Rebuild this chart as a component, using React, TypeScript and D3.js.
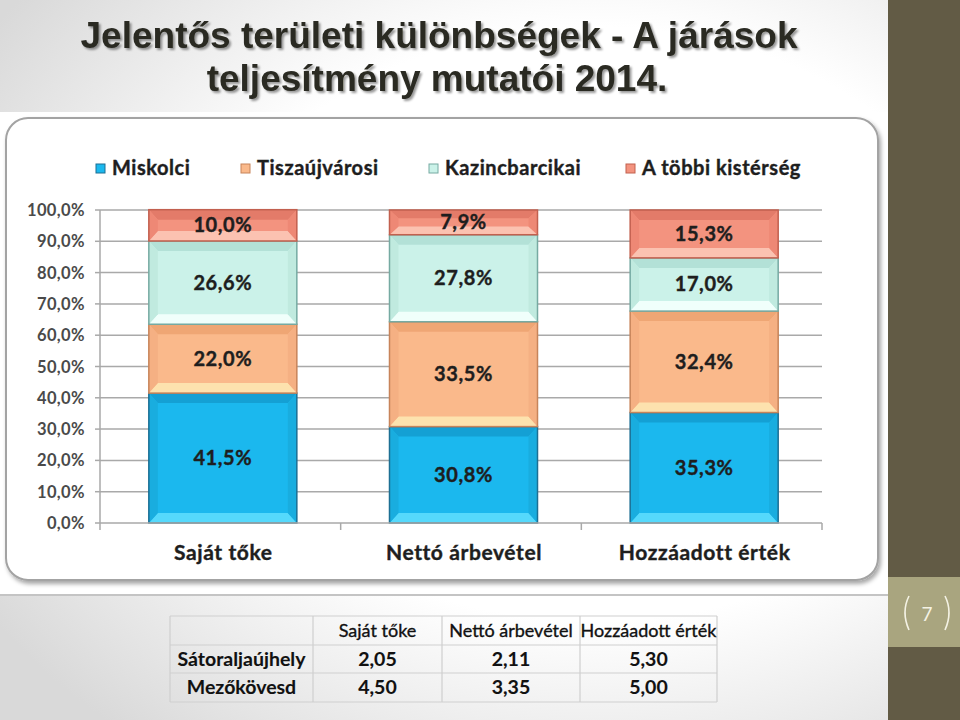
import { useEffect, useRef } from 'react';
import * as d3 from 'd3';

// Chart data (percent shares, 2014)
const categories = ['Saját tőke', 'Nettó árbevétel', 'Hozzáadott érték'];
const seriesNames = ['Miskolci', 'Tiszaújvárosi', 'Kazincbarcikai', 'A többi kistérség'];
const miskolci = [41.5, 30.8, 35.3];
const tiszaujvarosi = [22.0, 33.5, 32.4];
const kazincbarcikai = [26.6, 27.8, 17.0];
const tobbi = [10.0, 7.9, 15.3];
const yTicks = [0, 10, 20, 30, 40, 50, 60, 70, 80, 90, 100];

// Table below the chart
const tableHeader = ['', 'Saját tőke', 'Nettó árbevétel', 'Hozzáadott érték'];
const tableRowNames = ['Sátoraljaújhely', 'Mezőkövesd'];
const satoraljaujhely = ['2,05', '2,11', '5,30'];
const mezokovesd = ['4,50', '3,35', '5,00'];

const palette = [
  { main: '#1bb8ee', top: '#14a0d4', bottom: '#55d9fc', side: '#19addf', edge: '#1d6f93' },
  { main: '#fab98b', top: '#efa674', bottom: '#fde2ae', side: '#f5b083', edge: '#c7845a' },
  { main: '#cbf2e9', top: '#b3e1d7', bottom: '#f0fffb', side: '#c0eadf', edge: '#76aaa2' },
  { main: '#f3937f', top: '#e37b69', bottom: '#fbc2b1', side: '#ee8875', edge: '#c2604f' },
];

const fmt = (v: number) => v.toFixed(1).replace('.', ',');
const FONT = 'Lato, sans-serif';

export default function App() {
  const svgRef = useRef<SVGSVGElement>(null);

  useEffect(() => {
    if (!svgRef.current) return;
    const svg = d3.select(svgRef.current);
    svg.selectAll('*').remove();

    const defs = svg.append('defs');
    const bg = defs.append('radialGradient').attr('id', 'bg')
      .attr('cx', '0.62').attr('cy', '0.45').attr('r', '0.75');
    bg.append('stop').attr('offset', '0.55').attr('stop-color', '#ffffff');
    bg.append('stop').attr('offset', '1').attr('stop-color', '#d9d9d9');
    const sh = defs.append('filter').attr('id', 'sh').attr('x', '-5%').attr('y', '-5%')
      .attr('width', '110%').attr('height', '115%');
    sh.append('feDropShadow').attr('dx', 2).attr('dy', 3).attr('stdDeviation', 2)
      .attr('flood-color', '#000').attr('flood-opacity', 0.35);
    const tsh = defs.append('filter').attr('id', 'tsh');
    tsh.append('feDropShadow').attr('dx', 2).attr('dy', 2).attr('stdDeviation', 1.2)
      .attr('flood-color', '#000').attr('flood-opacity', 0.4);

    // slide background
    svg.append('rect').attr('width', 960).attr('height', 720).attr('fill', 'url(#bg)');
    svg.append('rect').attr('x', 888).attr('width', 72).attr('height', 720).attr('fill', '#625b45');
    svg.append('rect').attr('x', 888).attr('y', 577).attr('width', 72).attr('height', 70).attr('fill', '#a9a57f');
    svg.append('path').attr('d', 'M909,596 Q901,612 909,630').attr('fill', 'none')
      .attr('stroke', '#f4f2e4').attr('stroke-width', 1.6);
    svg.append('path').attr('d', 'M945,596 Q953,612 945,630').attr('fill', 'none')
      .attr('stroke', '#f4f2e4').attr('stroke-width', 1.6);
    svg.append('text').attr('x', 927).attr('y', 621).attr('text-anchor', 'middle')
      .attr('font-family', FONT).attr('font-size', 19).attr('fill', '#f4f2e4').text('7');

    // title
    const title = svg.append('g').attr('font-family', '"Liberation Sans", Arial, sans-serif')
      .attr('font-weight', 'bold').attr('font-size', 37).attr('fill', '#2a2a22')
      .attr('text-anchor', 'middle').attr('filter', 'url(#tsh)');
    title.append('text').attr('x', 439).attr('y', 48).text('Jelentős területi különbségek - A járások');
    title.append('text').attr('x', 437).attr('y', 91).text('teljesítmény mutatói 2014.');

    // chart picture
    svg.append('rect').attr('x', 0).attr('y', 112).attr('width', 888).attr('height', 483).attr('fill', '#ffffff');
    svg.append('line').attr('x1', 0).attr('x2', 888).attr('y1', 595).attr('y2', 595)
      .attr('stroke', '#c4c4c4').attr('stroke-width', 2);
    svg.append('rect').attr('x', 6).attr('y', 118).attr('width', 872).attr('height', 462).attr('rx', 22)
      .attr('fill', '#ffffff').attr('stroke', '#a3a3a3').attr('stroke-width', 2).attr('filter', 'url(#sh)');

    const y = d3.scaleLinear().domain([0, 100]).range([523, 210]);
    const x = d3.scaleBand<string>().domain(categories).range([100, 822]);
    const barW = x.bandwidth() * 0.615;

    // gridlines
    svg.append('g').selectAll('line').data(yTicks.filter(t => t > 0)).join('line')
      .attr('x1', 100).attr('x2', 822).attr('y1', d => y(d)).attr('y2', d => y(d))
      .attr('stroke', '#a9a9a9').attr('stroke-width', 1.5);
    // y axis
    svg.append('line').attr('x1', 100).attr('x2', 100).attr('y1', y(0)).attr('y2', y(100))
      .attr('stroke', '#a9a9a9').attr('stroke-width', 1.5);
    svg.append('g').selectAll('line').data(yTicks).join('line')
      .attr('x1', 95).attr('x2', 100).attr('y1', d => y(d)).attr('y2', d => y(d))
      .attr('stroke', '#a9a9a9').attr('stroke-width', 1.5);
    svg.append('g').selectAll('text').data(yTicks).join('text')
      .attr('x', 85).attr('y', d => y(d) + 6).attr('text-anchor', 'end')
      .attr('font-family', FONT).attr('font-weight', 'bold').attr('font-size', 16.5)
      .attr('fill', '#4a4a4a').attr('letter-spacing', 0.4).text(d => fmt(d) + '%');

    // stacked bars
    const rows = categories.map((c, i) => ({
      cat: c,
      [seriesNames[0]]: miskolci[i],
      [seriesNames[1]]: tiszaujvarosi[i],
      [seriesNames[2]]: kazincbarcikai[i],
      [seriesNames[3]]: tobbi[i],
    }));
    const stacked = d3.stack<any>().keys(seriesNames)(rows);

    stacked.forEach((layer, si) => {
      const col = palette[si];
      layer.forEach((d, ci) => {
        const cx = (x(categories[ci]) as number) + x.bandwidth() / 2 + 2.5;
        const x0 = cx - barW / 2;
        const x1 = cx + barW / 2;
        const yt = y(d[1]);
        const yb = y(d[0]);
        const h = yb - yt;
        const bv = Math.min(10, h / 3);
        const bs = Math.min(9, barW / 4);
        const g = svg.append('g');
        g.append('rect').attr('x', x0).attr('y', yt).attr('width', barW).attr('height', h).attr('fill', col.main);
        g.append('path').attr('d', `M${x0},${yt}L${x1},${yt}L${x1 - bs},${yt + bv}L${x0 + bs},${yt + bv}Z`).attr('fill', col.top);
        g.append('path').attr('d', `M${x0},${yb}L${x1},${yb}L${x1 - bs},${yb - bv}L${x0 + bs},${yb - bv}Z`).attr('fill', col.bottom);
        g.append('path').attr('d', `M${x0},${yt}L${x0 + bs},${yt + bv}L${x0 + bs},${yb - bv}L${x0},${yb}Z`).attr('fill', col.side);
        g.append('path').attr('d', `M${x1},${yt}L${x1 - bs},${yt + bv}L${x1 - bs},${yb - bv}L${x1},${yb}Z`).attr('fill', col.side);
        g.append('rect').attr('x', x0).attr('y', yt).attr('width', barW).attr('height', h)
          .attr('fill', 'none').attr('stroke', col.edge).attr('stroke-width', 1.5);
        g.append('text').attr('x', cx).attr('y', (yt + yb) / 2 + 7).attr('text-anchor', 'middle')
          .attr('font-family', FONT).attr('font-weight', 'bold').attr('font-size', 20)
          .attr('fill', '#1e1e1e').attr('stroke', '#1e1e1e').attr('stroke-width', 0.4)
          .attr('letter-spacing', 0.6).text(fmt(d[1] - d[0]) + '%');
      });
    });

    // x axis
    svg.append('line').attr('x1', 100).attr('x2', 822).attr('y1', y(0)).attr('y2', y(0))
      .attr('stroke', '#a9a9a9').attr('stroke-width', 1.5);
    const bounds = [...categories.map(c => x(c) as number), 822];
    svg.append('g').selectAll('line').data(bounds).join('line')
      .attr('x1', d => d).attr('x2', d => d).attr('y1', y(0)).attr('y2', y(0) + 7)
      .attr('stroke', '#a9a9a9').attr('stroke-width', 1.5);
    svg.append('g').selectAll('text').data(categories).join('text')
      .attr('x', d => (x(d) as number) + x.bandwidth() / 2 + 3).attr('y', 560).attr('text-anchor', 'middle')
      .attr('font-family', FONT).attr('font-weight', 'bold').attr('font-size', 21)
      .attr('fill', '#1e1e1e').attr('stroke', '#1e1e1e').attr('stroke-width', 0.4)
      .attr('letter-spacing', 0.6).text(d => d);

    // legend
    const legendX = [96, 241, 429, 626];
    const lg = svg.append('g');
    seriesNames.forEach((name, i) => {
      lg.append('rect').attr('x', legendX[i]).attr('y', 164).attr('width', 9).attr('height', 9)
        .attr('fill', palette[i].main).attr('stroke', palette[i].edge).attr('stroke-width', 1);
      lg.append('text').attr('x', legendX[i] + 16).attr('y', 175)
        .attr('font-family', FONT).attr('font-weight', 'bold').attr('font-size', 20)
        .attr('fill', '#1e1e1e').attr('stroke', '#1e1e1e').attr('stroke-width', 0.4)
        .attr('letter-spacing', 0.55).text(name);
    });

    // table
    const colX = [170, 313, 442, 580, 717];
    const rowY = [616, 645, 673, 702];
    const tb = svg.append('g');
    rowY.forEach(ry => tb.append('line').attr('x1', colX[0]).attr('x2', colX[4]).attr('y1', ry).attr('y2', ry)
      .attr('stroke', '#cfcfcf').attr('stroke-width', 1.2));
    colX.forEach(cx => tb.append('line').attr('x1', cx).attr('x2', cx).attr('y1', rowY[0]).attr('y2', rowY[3])
      .attr('stroke', '#cfcfcf').attr('stroke-width', 1.2));
    const tableRows = [tableHeader, [tableRowNames[0], ...satoraljaujhely], [tableRowNames[1], ...mezokovesd]];
    tableRows.forEach((r, ri) => {
      r.forEach((cell, ci) => {
        tb.append('text').attr('x', (colX[ci] + colX[ci + 1]) / 2).attr('y', rowY[ri] + 21)
          .attr('text-anchor', 'middle').attr('font-family', FONT)
          .attr('font-size', ri === 0 ? 18 : 19.5)
          .attr('font-weight', ri === 0 ? 'normal' : 'bold')
          .attr('fill', '#111').attr('stroke', '#111').attr('stroke-width', ri === 0 ? 0.35 : 0.1)
          .text(cell);
      });
    });
  }, []);

  return (
    <svg ref={svgRef} width={960} height={720}
      style={{ position: 'absolute', left: 0, top: 0, display: 'block' }} />
  );
}
